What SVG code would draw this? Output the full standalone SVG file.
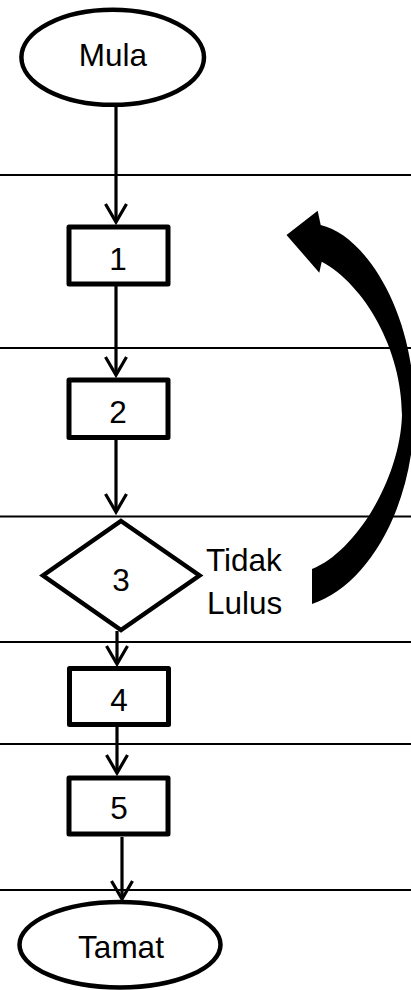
<svg xmlns="http://www.w3.org/2000/svg" width="411" height="990" viewBox="0 0 411 990">
<defs>
<style>
.sep{stroke:#000;stroke-width:1.8;fill:none}
.node{fill:#fff;stroke:#000;stroke-width:4.5}
.box{fill:#fff;stroke:#000;stroke-width:5;stroke-linejoin:round}
.conn{stroke:#000;stroke-width:3.2;fill:none;marker-end:url(#ah)}
text{font-family:"Liberation Sans",Arial,sans-serif;font-size:31.5px;fill:#000}
.c{text-anchor:middle}
</style>
<marker id="ah" markerUnits="userSpaceOnUse" markerWidth="30" markerHeight="30" refX="0" refY="0" orient="auto" overflow="visible">
<path d="M-18,-10.5 L0,0 L-18,10.5" fill="none" stroke="#000" stroke-width="3.2" stroke-linejoin="miter"/>
</marker>
</defs>
<g id="separators">
<line class="sep" x1="0" y1="175" x2="411" y2="175"/>
<line class="sep" x1="0" y1="348" x2="411" y2="348"/>
<line class="sep" x1="0" y1="516.5" x2="411" y2="516.5"/>
<line class="sep" x1="0" y1="642" x2="411" y2="642"/>
<line class="sep" x1="0" y1="744" x2="411" y2="744"/>
<line class="sep" x1="0" y1="890" x2="411" y2="890"/>
</g>
<g id="connectors">
<line class="conn" x1="116" y1="106" x2="116" y2="222"/>
<line class="conn" x1="116" y1="286" x2="116" y2="375"/>
<line class="conn" x1="116" y1="440" x2="116" y2="512"/>
<line class="conn" x1="117" y1="631" x2="117" y2="664"/>
<line class="conn" x1="117" y1="727" x2="117" y2="773"/>
<line class="conn" x1="122" y1="837" x2="122" y2="899"/>
<path id="loop-arrow" d="M312,569 C355,552 400,480 402,415 C402,350 365,285 321.7,261.7 L319.3,272.7 L286.5,235 L317.7,210.7 L320.7,225 C365,235 412,310 414,400 C418,500 370,585 312,604 Z" fill="#000"/>
</g>
<g id="mula">
<ellipse class="node" cx="112.7" cy="57.3" rx="91.3" ry="47.5"/>
<text class="c" x="113" y="65.5">Mula</text>
</g>
<g id="n1">
<rect class="box" x="69" y="227" width="99" height="57"/>
<text class="c" x="118" y="269.5">1</text>
</g>
<g id="n2">
<rect class="box" x="69" y="380" width="99" height="57.5"/>
<text class="c" x="118" y="422.5">2</text>
</g>
<g id="n3">
<polygon class="node" points="121,521 199.5,575.5 121,630 43,575.5"/>
<text class="c" x="121" y="590.5">3</text>
</g>
<g id="label">
<text x="206" y="570.5">Tidak</text>
<text x="207" y="614">Lulus</text>
</g>
<g id="n4">
<rect class="box" x="69.5" y="668.5" width="99" height="56"/>
<text class="c" x="119" y="710.5">4</text>
</g>
<g id="n5">
<rect class="box" x="69" y="778" width="99" height="56"/>
<text class="c" x="119" y="818.5">5</text>
</g>
<g id="tamat">
<ellipse class="node" cx="120" cy="944.7" rx="100.5" ry="42.7"/>
<text class="c" x="121" y="958">Tamat</text>
</g>
</svg>
